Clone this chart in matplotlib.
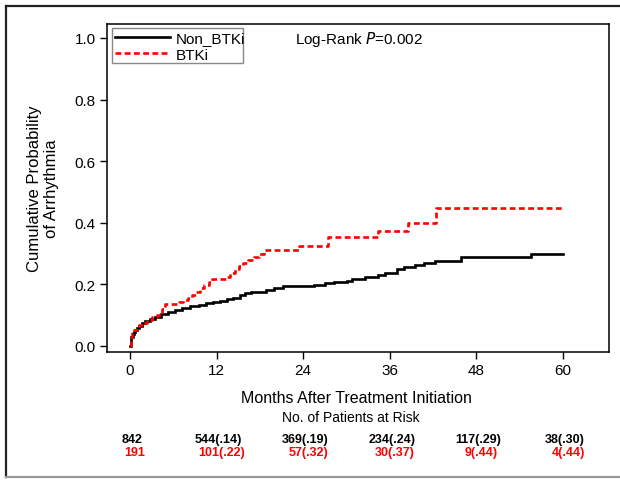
import numpy as np
import matplotlib.pyplot as plt
from matplotlib.lines import Line2D

plt.rcParams['font.family'] = ['Liberation Sans', 'DejaVu Sans']

# Non_BTKi step curve (months, cumulative probability)
t_non = [0.0, 0.1, 0.2, 0.35, 0.5, 0.7, 0.9, 1.2, 1.6, 2.1, 2.7, 3.5, 4.3, 5.3,
         6.2, 7.2, 8.3, 9.5, 10.5, 11.5, 12.5, 13.5, 14.3, 15.2, 16.0, 16.8,
         18.9, 20.0, 21.2, 23.5, 25.5, 27.0, 28.2, 30.0, 30.8, 32.5, 34.3,
         35.3, 37.0, 38.0, 39.5, 40.8, 42.3, 45.8, 55.6, 60.0]
p_non = [0.0, 0.015, 0.028, 0.038, 0.045, 0.052, 0.058, 0.065, 0.072, 0.080,
         0.086, 0.094, 0.101, 0.108, 0.115, 0.121, 0.127, 0.132, 0.138, 0.143,
         0.146, 0.150, 0.156, 0.163, 0.170, 0.175, 0.180, 0.186, 0.193, 0.195,
         0.197, 0.203, 0.206, 0.211, 0.216, 0.222, 0.229, 0.236, 0.250, 0.256,
         0.262, 0.268, 0.276, 0.287, 0.299, 0.299]

# BTKi step curve
t_btk = [0.0, 0.1, 0.3, 0.5, 0.9, 1.3, 1.8, 2.4, 3.1, 3.8, 4.5, 4.8, 6.8, 7.4,
         8.0, 8.6, 9.2, 9.7, 10.3, 10.9, 11.4, 13.3, 13.9, 14.5, 15.1, 15.7,
         16.4, 17.2, 17.9, 18.5, 23.4, 27.4, 34.4, 38.5, 42.4, 60.0]
p_btk = [0.0, 0.02, 0.04, 0.05, 0.058, 0.066, 0.074, 0.084, 0.092, 0.100,
         0.118, 0.135, 0.141, 0.148, 0.156, 0.164, 0.175, 0.186, 0.198, 0.208,
         0.215, 0.222, 0.235, 0.248, 0.258, 0.268, 0.278, 0.287, 0.299, 0.312,
         0.325, 0.354, 0.372, 0.398, 0.447, 0.447]

x_ticks = [0, 12, 24, 36, 48, 60]
y_ticks = [0.0, 0.2, 0.4, 0.6, 0.8, 1.0]
risk_non = ['842', '544(.14)', '369(.19)', '234(.24)', '117(.29)', '38(.30)']
risk_btk = ['191', '101(.22)', '57(.32)', '30(.37)', '9(.44)', '4(.44)']

fig = plt.figure(figsize=(6.2, 4.81), dpi=100)
ax = fig.add_axes([107 / 620, 1 - 353 / 481, 502 / 620, 328 / 481])

ax.step(t_non, p_non, where='post', color='black', lw=1.9, solid_joinstyle='miter')
ax.step(t_btk, p_btk, where='post', color='red', lw=1.9, dashes=(2.2, 1.3))

ax.set_xlim(-3.19, 66.37)
ax.set_ylim(-0.021, 1.0455)
ax.set_xticks(x_ticks)
ax.set_yticks(y_ticks)
ax.set_yticklabels(['%.1f' % v for v in y_ticks])
ax.tick_params(direction='out', length=5, width=1, labelsize=11, pad=3)
for s in ax.spines.values():
    s.set_linewidth(1.1)

ax.set_ylabel('Cumulative Probability\nof Arrhythmia', fontsize=12, labelpad=11)

# legend drawn by hand so text sits level with the sample lines
lx0, lx1 = 112 / 620, 243 / 620
ly0, ly1 = 1 - 64 / 481, 1 - 29 / 481
fig.add_artist(plt.Rectangle((lx0, ly0), lx1 - lx0, ly1 - ly0, fill=True,
                             facecolor='white', edgecolor='#888888', lw=1.0,
                             transform=fig.transFigure, zorder=5))
rows = [('Non_BTKi', 'black', None, 38), ('BTKi', 'red', (2.2, 1.3), 54)]
for lab, col, dsh, yp in rows:
    yf = 1 - yp / 481
    ln = Line2D([115 / 620, 170 / 620], [yf, yf], color=col, lw=1.9,
                transform=fig.transFigure, zorder=6)
    if dsh:
        ln.set_dashes(dsh)
    fig.add_artist(ln)
    fig.text(176 / 620, yf, lab, fontsize=11, ha='left', va='center_baseline',
             zorder=7)

ax.text(0.375, 0.955, 'Log-Rank $\\it{P}$=0.002', transform=ax.transAxes,
        fontsize=11, va='center', ha='left')

# titles and at-risk table below the axes
fig.text(356 / 620, 1 - 399 / 481, 'Months After Treatment Initiation',
         fontsize=11.5, ha='center', va='center')
fig.text(351 / 620, 1 - 418 / 481, 'No. of Patients at Risk',
         fontsize=10, ha='center', va='center')
for xt, a, b in zip(x_ticks, risk_non, risk_btk):
    xf = (130 + xt * 7.217 + 2) / 620
    fig.text(xf, 1 - 440 / 481, a, fontsize=9, fontweight='bold',
             ha='center', va='center', color='black')
    fig.text(xf + 3 / 620, 1 - 453 / 481, b, fontsize=9, fontweight='bold',
             ha='center', va='center', color='red')

# outer border of the figure
fig.add_artist(Line2D([6 / 620, 6 / 620], [1 - 478 / 481, 1 - 7 / 481],
                      color='#222222', lw=1.6, transform=fig.transFigure))
fig.add_artist(Line2D([6 / 620, 1.0], [1 - 7 / 481, 1 - 7 / 481],
                      color='#222222', lw=1.6, transform=fig.transFigure))
fig.add_artist(Line2D([6 / 620, 1.0], [1 - 478 / 481, 1 - 478 / 481],
                      color='#999999', lw=1.6, transform=fig.transFigure))

fig.savefig('out.png', dpi=100)
